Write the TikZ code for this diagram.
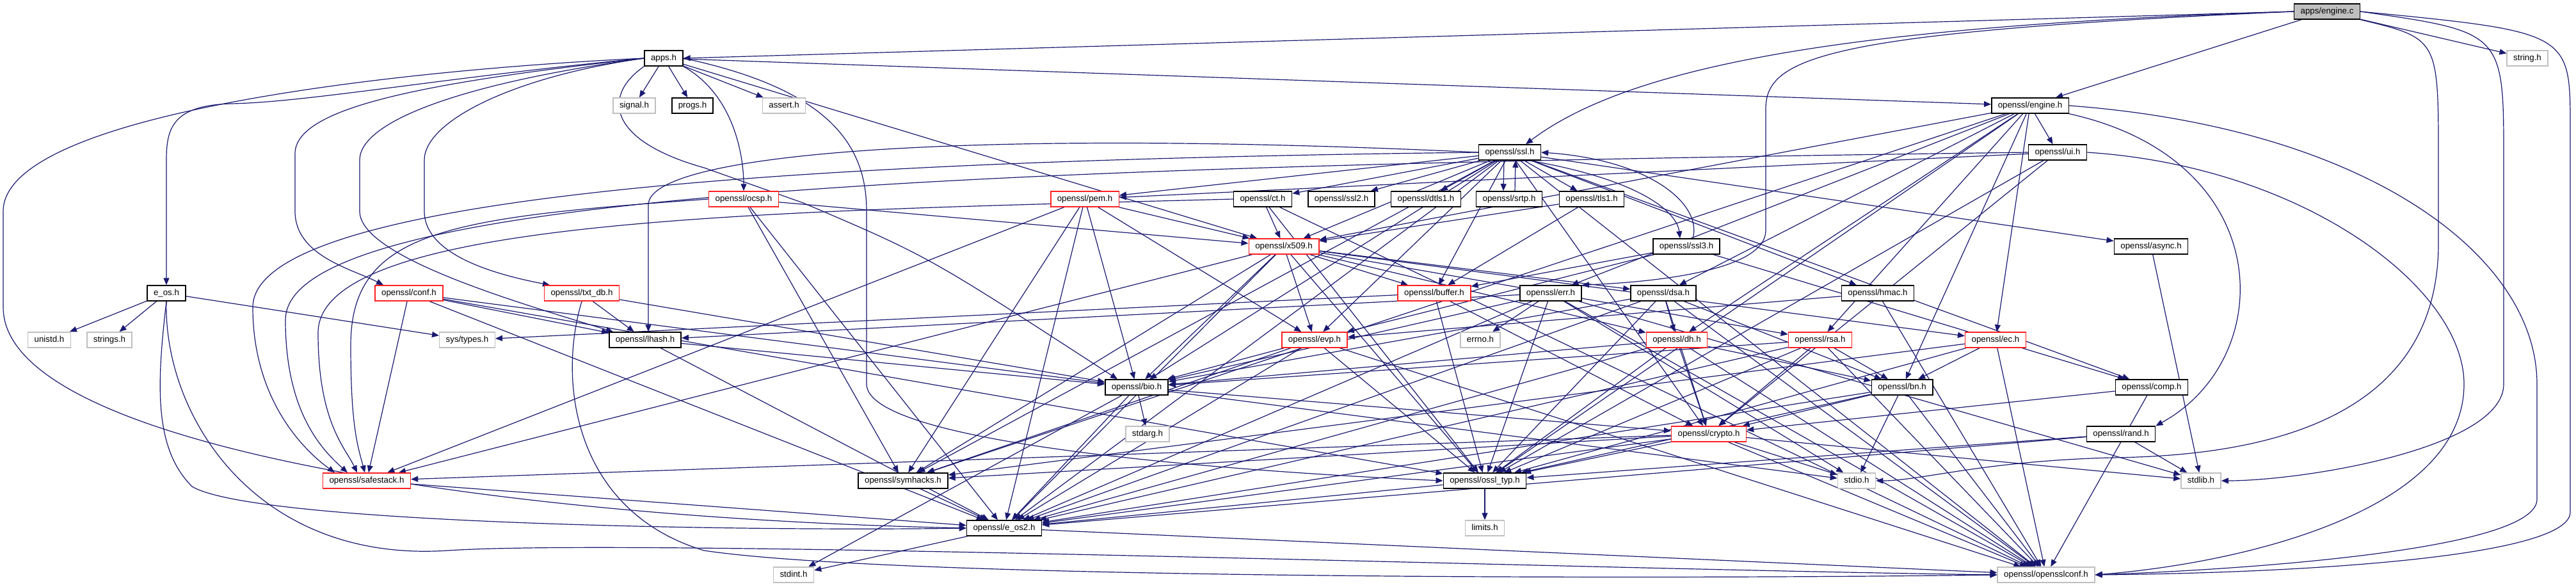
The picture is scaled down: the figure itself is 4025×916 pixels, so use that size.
\documentclass[tikz,border=0pt]{standalone}
\usepackage{fontspec}
\setmainfont{Liberation Sans}
\usetikzlibrary{arrows.meta}
\pgfdeclarelayer{bg}
\pgfsetlayers{bg,main}
\definecolor{edgec}{HTML}{191970}
\definecolor{grayb}{HTML}{BFBFBF}
\definecolor{redb}{HTML}{FF2020}
\tikzset{
  hnode/.style={draw, rectangle, fill=white, minimum height=24pt, inner xsep=10pt, inner ysep=0pt,
    text height=9.6pt, text depth=2.8pt, font=\fontsize{13.3}{15}\selectfont, line width=1.5pt},
  blk/.style={hnode, draw=black},
  gry/.style={hnode, draw=grayb},
  rd/.style={hnode, draw=redb},
  root/.style={hnode, draw=black, fill=grayb},
  e/.style={draw=edgec, line width=1.2pt, -{Triangle[length=11pt,width=9pt]}},
}
\begin{document}
\begin{tikzpicture}[x=1pt,y=-1pt]
\useasboundingbox (0,0) rectangle (4025,916);
\node[root] (enginec) at (3636,18) {apps/engine.c};
\node[blk] (apps) at (1037,91) {apps.h};
\node[gry] (string) at (3949,91) {string.h};
\node[gry] (signal) at (991,165) {signal.h};
\node[blk] (progs) at (1082,165) {progs.h};
\node[gry] (assert) at (1225,165) {assert.h};
\node[blk] (engineh) at (3172,165) {openssl/engine.h};
\node[blk] (ssl) at (2359,238) {openssl/ssl.h};
\node[blk] (ui) at (3215,238) {openssl/ui.h};
\node[rd] (ocsp) at (1162,311) {openssl/ocsp.h};
\node[rd] (pem) at (1695,311) {openssl/pem.h};
\node[blk] (ct) at (1973,311) {openssl/ct.h};
\node[blk] (ssltwo) at (2096,311) {openssl/ssl2.h};
\node[blk] (dtls) at (2228,311) {openssl/dtls1.h};
\node[blk] (srtp) at (2358,311) {openssl/srtp.h};
\node[blk] (tls) at (2487,311) {openssl/tls1.h};
\node[rd] (xfive) at (2006,385) {openssl/x509.h};
\node[blk] (sslthree) at (2635,385) {openssl/ssl3.h};
\node[blk] (async) at (3361,385) {openssl/async.h};
\node[blk] (eos) at (260,458) {e\_os.h};
\node[rd] (conf) at (639,458) {openssl/conf.h};
\node[rd] (txtdb) at (909,458) {openssl/txt\_db.h};
\node[rd] (buffer) at (2241,458) {openssl/buffer.h};
\node[blk] (err) at (2423,458) {openssl/err.h};
\node[blk] (dsa) at (2599,458) {openssl/dsa.h};
\node[blk] (hmac) at (2934,458) {openssl/hmac.h};
\node[gry] (unistd) at (77,531) {unistd.h};
\node[gry] (strings) at (171,531) {strings.h};
\node[gry] (systypes) at (730,531) {sys/types.h};
\node[blk] (lhash) at (1008,531) {openssl/lhash.h};
\node[rd] (evp) at (2054,531) {openssl/evp.h};
\node[gry] (errno) at (2313,531) {errno.h};
\node[rd] (dh) at (2620,531) {openssl/dh.h};
\node[rd] (rsa) at (2844,531) {openssl/rsa.h};
\node[rd] (ec) at (3118,531) {openssl/ec.h};
\node[blk] (bio) at (1776,605) {openssl/bio.h};
\node[blk] (bn) at (2972,605) {openssl/bn.h};
\node[blk] (comp) at (3362,605) {openssl/comp.h};
\node[gry] (stdarg) at (1793,678) {stdarg.h};
\node[rd] (crypto) at (2670,678) {openssl/crypto.h};
\node[blk] (rand) at (3314,678) {openssl/rand.h};
\node[rd] (safestack) at (573,751) {openssl/safestack.h};
\node[blk] (symhacks) at (1411,751) {openssl/symhacks.h};
\node[blk] (ossltyp) at (2320,751) {openssl/ossl\_typ.h};
\node[gry] (stdio) at (2901,751) {stdio.h};
\node[gry] (stdlib) at (3439,751) {stdlib.h};
\node[blk] (eostwo) at (1569,825) {openssl/e\_os2.h};
\node[gry] (limits) at (2320,825) {limits.h};
\node[gry] (stdint) at (1240,898) {stdint.h};
\node[gry] (sslconf) at (3197,898) {openssl/opensslconf.h};
\begin{pgfonlayer}{bg}
\foreach \s/\t in {enginec/engineh, enginec/string,
 apps/signal, apps/progs, apps/assert, apps/engineh, apps/xfive,
 engineh/ui, engineh/bn, engineh/rsa, engineh/dsa, engineh/dh, engineh/ec, engineh/err, engineh/ossltyp, engineh/symhacks, engineh/xfive,
 ssl/ssltwo, ssl/dtls, ssl/tls, ssl/eostwo, ssl/sslconf, ssl/comp, ssl/bio, ssl/xfive, ssl/crypto, ssl/buffer, ssl/pem, ssl/hmac, ssl/async, ssl/symhacks, ssl/ct, ssl/evp,
 ui/pem, ui/crypto, ui/ossltyp,
 ocsp/xfive, ocsp/symhacks, ocsp/eostwo,
 pem/eostwo, pem/bio, pem/safestack, pem/evp, pem/xfive, pem/symhacks,
 ct/xfive, ct/ossltyp, ct/sslconf,
 tls/buffer, tls/xfive,
 sslthree/comp, sslthree/buffer, sslthree/evp,
 xfive/eostwo, xfive/ossltyp, xfive/symhacks, xfive/buffer, xfive/evp, xfive/bio, xfive/ec, xfive/rsa, xfive/dsa, xfive/dh, xfive/safestack,
 async/stdlib,
 eos/unistd, eos/strings, eos/systypes,
 conf/bio, conf/lhash, conf/safestack, conf/eostwo, conf/ossltyp,
 txtdb/bio, txtdb/lhash,
 buffer/ossltyp, buffer/systypes, buffer/crypto,
 err/errno, err/ossltyp, err/lhash, err/bio, err/stdio, err/stdlib, err/eostwo, err/sslconf,
 dsa/dh, dsa/bn, dsa/crypto, dsa/ossltyp, dsa/eostwo, dsa/bio, dsa/sslconf,
 hmac/evp, hmac/sslconf,
 lhash/bio, lhash/eostwo,
 evp/bio, evp/ossltyp, evp/symhacks, evp/sslconf, evp/eostwo,
 dh/bn, dh/crypto, dh/ossltyp, dh/eostwo, dh/bio, dh/sslconf,
 rsa/bn, rsa/crypto, rsa/ossltyp, rsa/bio, rsa/eostwo, rsa/sslconf,
 ec/bn, ec/symhacks, ec/sslconf, ec/ossltyp,
 bio/stdarg, bio/crypto, bio/stdio, bio/eostwo, bio/stdint,
 bn/crypto, bn/stdio, bn/ossltyp, bn/eostwo, bn/sslconf,
 comp/crypto, comp/sslconf,
 crypto/safestack, crypto/stdlib, crypto/stdio, crypto/ossltyp, crypto/symhacks, crypto/eostwo, crypto/sslconf,
 rand/ossltyp, rand/eostwo, rand/stdlib,
 safestack/eostwo, symhacks/eostwo, ossltyp/eostwo, ossltyp/limits,
 eostwo/sslconf, eostwo/stdint}
 \draw[e] (\s) -- (\t);
% apps/engine.c curves
\draw[e] (enginec.west) -- (apps.east);
\draw[e] (enginec.west) .. controls (2900,40) and (2550,100) .. ([xshift=25]ssl.north);
\draw[e] (enginec.west) .. controls (2850,50) and (2759,90) .. (2759,170) -- (2759,360) .. controls (2759,420) and (2600,440) .. (err.north east);
\draw[e] (enginec.south east) .. controls (3810,60) .. (3810,250) -- (3810,380) .. controls (3810,650) and (3550,712) .. (3300,715) .. controls (3100,720) and (3000,751) .. (stdio.east);
\draw[e] (enginec.east) .. controls (3912,50) .. (3912,250) -- (3912,600) .. controls (3912,700) and (3600,751) .. (stdlib.east);
\draw[e] (enginec.east) .. controls (4016,50) .. (4016,200) -- (4016,800) .. controls (4016,870) and (3600,895) .. (sslconf.east);
% apps.h curves
\draw[e] (apps.west) .. controls (600,110) and (5,180) .. (5,330) -- (5,480) .. controls (5,700) and (800,810) .. (eostwo.west);
\draw[e] (apps.west) .. controls (700,120) and (480,160) .. (360,162) .. controls (270,165) and (260,200) .. (260,250) -- (eos.north);
\draw[e] (apps.west) .. controls (650,130) and (461,170) .. (461,240) -- (461,330) .. controls (461,400) and (550,420) .. ([xshift=-40]conf.north);
\draw[e] (apps.west) .. controls (720,130) and (562,190) .. (562,250) -- (562,330) .. controls (562,400) and (800,470) .. ([xshift=-50]lhash.north);
\draw[e] (apps.west) .. controls (800,120) and (663,190) .. (663,250) -- (663,330) .. controls (663,400) and (780,430) .. ([xshift=-50]txtdb.north);
\draw[e] (apps.south west) .. controls (940,150) and (950,220) .. (1100,262) -- (1255,317) .. controls (1450,400) .. ([xshift=-30]bio.north);
\draw[e] (apps.south east) .. controls (1150,150) and (1162,250) .. (ocsp.north);
\draw[e] (apps.east) .. controls (1300,140) and (1354,230) .. (1354,330) -- (1354,600) .. controls (1354,700) and (2000,740) .. (ossltyp.west);
% e_os.h curves
\draw[e] (eos.south) .. controls (245,600) and (240,700) .. (300,760) .. controls (400,820) and (1200,830) .. (eostwo.west);
\draw[e] (eos.south) .. controls (255,650) and (400,880) .. (700,860) .. controls (1000,840) and (2500,890) .. (sslconf.west);
\draw[e] (txtdb.south) .. controls (870,600) and (900,800) .. (1100,860) .. controls (1400,905) and (2600,905) .. (sslconf.west);
% ssl.h special
\draw[e] ([xshift=-9]ssl.south) -- ([xshift=-9]srtp.north);
\draw[e] ([xshift=9]srtp.north) -- ([xshift=9]ssl.south);
\draw[e] ([xshift=30]ssl.south) .. controls (2560,280) and (2620,330) .. ([xshift=-10]sslthree.north);
\draw[e] ([xshift=10]sslthree.north) .. controls (2660,320) and (2580,250) .. (ssl.east);
\draw[e] (ssl.west) .. controls (1500,200) and (1013,240) .. (1013,320) -- ([xshift=5]lhash.north);
\draw[e] (ssl.west) .. controls (1300,250) and (395,300) .. (395,480) .. controls (395,620) and (470,700) .. ([xshift=-50]safestack.north);
\draw[e] (ui.west) .. controls (1500,260) and (446,300) .. (446,500) .. controls (446,640) and (500,700) .. ([xshift=-30]safestack.north);
\draw[e] (ct.west) .. controls (1200,330) and (497,340) .. (497,520) .. controls (497,660) and (540,700) .. ([xshift=-15]safestack.north);
\draw[e] (ocsp.west) .. controls (700,340) and (548,360) .. (548,540) .. controls (548,670) and (560,700) .. ([xshift=-3]safestack.north);
% engine.h / ui.h right curves
\draw[e] (engineh.south east) .. controls (3560,250) and (3560,560) .. (rand.north east);
\draw[e] (engineh.east) .. controls (3700,200) and (3964,400) .. (3964,600) -- (3964,780) .. controls (3964,860) and (3500,890) .. (sslconf.east);
\draw[e] (ui.east) .. controls (3600,260) and (3850,450) .. (3850,600) .. controls (3850,800) and (3500,880) .. (sslconf.east);
\end{pgfonlayer}
\end{tikzpicture}
\end{document}
